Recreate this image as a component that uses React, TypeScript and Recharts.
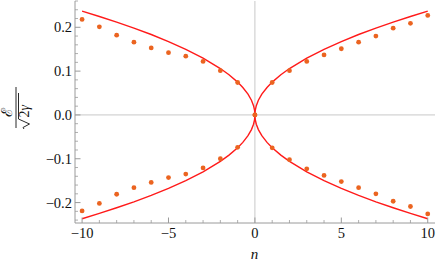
import React from 'react';
import { ComposedChart, Line, Scatter, XAxis, YAxis, ReferenceLine } from 'recharts';

// magnitudes of n used to trace the analytic curve, and the curve value read at each
const curveAbsN = [0, 0.02, 0.08, 0.2, 0.4, 0.7, 1, 1.5, 2, 3, 4, 5, 6, 7, 8, 9, 10];
const curveE = [0, 0.0106, 0.0212, 0.0335, 0.0474, 0.0627, 0.0749, 0.0917, 0.1059, 0.1297, 0.1498, 0.1675, 0.1835, 0.1982, 0.2118, 0.2247, 0.2369];

// numerical points
const dotN = [-10, -9, -8, -7, -6, -5, -4, -3, -2, -1, 0, 1, 2, 3, 4, 5, 6, 7, 8, 9, 10];
const dotUpper = [0.218, 0.201, 0.182, 0.166, 0.153, 0.142, 0.134, 0.122, 0.101, 0.074, 0, 0.074, 0.101, 0.122, 0.137, 0.151, 0.166, 0.18, 0.198, 0.209, 0.227];
const dotLower = [-0.219, -0.202, -0.181, -0.166, -0.154, -0.143, -0.135, -0.121, -0.1, -0.074, 0, -0.075, -0.102, -0.123, -0.138, -0.152, -0.166, -0.18, -0.197, -0.209, -0.226];

const xTicks = [-10, -9, -8, -7, -6, -5, -4, -3, -2, -1, 0, 1, 2, 3, 4, 5, 6, 7, 8, 9, 10];
const xMajor = [-10, -5, 0, 5, 10];
const yTicks = [-0.24, -0.22, -0.2, -0.18, -0.16, -0.14, -0.12, -0.1, -0.08, -0.06, -0.04, -0.02, 0, 0.02, 0.04, 0.06, 0.08, 0.1, 0.12, 0.14, 0.16, 0.18, 0.2, 0.22, 0.24, 0.26];
const yMajor = [-0.2, -0.1, 0, 0.1, 0.2];

const FRAME = '#9a9a9a';
const serif: React.CSSProperties = { fontFamily: "'Liberation Serif', 'Times New Roman'" };

const isMajor = (list: number[], v: number) => list.some((m) => Math.abs(m - v) < 1e-6);
const fmt = (v: number, digits: number) => {
    const s = Math.abs(v).toFixed(digits);
    return v < -1e-9 ? `\u2212${s}` : s;
};

// curve: positive branch over n from -10..10, then mirrored for the negative branch
const curveN = [...curveAbsN.slice(1).reverse().map((a) => -a), ...curveAbsN];
const curveVals = [...curveE.slice(1).reverse(), ...curveE];
const upperCurve = curveN.map((n, i) => ({ n, e: curveVals[i] }));
const lowerCurve = curveN.map((n, i) => ({ n, e: -curveVals[i] }));
const upperDots = dotN.map((n, i) => ({ n, e: dotUpper[i] }));
const lowerDots = dotN.map((n, i) => ({ n, e: dotLower[i] }));

const makeXTick = (side: 'bottom' | 'top') => (props: any) => {
    const { x, y, payload } = props;
    const major = isMajor(xMajor, payload.value);
    const len = major ? 5.5 : 3;
    const dir = side === 'bottom' ? -1 : 1;
    return (
        <g>
            <line x1={x} x2={x} y1={y} y2={y + dir * len} stroke={FRAME} strokeWidth={major ? 1 : 0.8} />
            {side === 'bottom' && major && (
                <text x={x} y={y + 15} textAnchor="middle" style={{ ...serif, fontSize: 14.5 }} fill="#111">
                    {fmt(payload.value, 0)}
                </text>
            )}
        </g>
    );
};

const makeYTick = (side: 'left' | 'right') => (props: any) => {
    const { x, y, payload } = props;
    const major = isMajor(yMajor, payload.value);
    const len = major ? 5.5 : 3;
    const dir = side === 'left' ? 1 : -1;
    return (
        <g>
            <line x1={x} x2={x + dir * len} y1={y} y2={y} stroke={FRAME} strokeWidth={major ? 1 : 0.8} />
            {side === 'left' && major && (
                <text x={x - 3} y={y} dy="0.35em" textAnchor="end" style={{ ...serif, fontSize: 14.5 }} fill="#111">
                    {fmt(payload.value, 1)}
                </text>
            )}
        </g>
    );
};

const YLabel = () => (
    <g transform="translate(16,108) rotate(-90)" fill="#111" stroke="none">
        <text x={-4} y={-4} textAnchor="middle" style={{ ...serif, fontSize: 15 }}>
            {'\u2130'}
        </text>
        <line x1={-20} x2={21} y1={0} y2={0} stroke="#111" strokeWidth={0.9} />
        <path d="M -21 8 L -19.5 7 L -16 13.5 L -11 2.5 L 15 2.5" fill="none" stroke="#111" strokeWidth={0.9} />
        <text x={-9.5} y={12.5} style={{ ...serif, fontSize: 14 }}>
            2<tspan fontStyle="italic">γ</tspan>
        </text>
    </g>
);

const XLabel = () => (
    <text x={254.5} y={259} textAnchor="middle" style={{ ...serif, fontSize: 15, fontStyle: 'italic' }} fill="#111">
        n
    </text>
);

export default function App() {
    return (
        <div style={{ position: 'absolute', left: 0, top: 0, background: '#fff' }}>
            <ComposedChart width={436} height={264} margin={{ top: 1, right: 1, bottom: 0, left: 0 }}>
                <XAxis
                    xAxisId="b"
                    dataKey="n"
                    type="number"
                    orientation="bottom"
                    domain={[-10.41, 10.42]}
                    ticks={xTicks}
                    interval={0}
                    height={41}
                    tickSize={0}
                    tickMargin={0}
                    tickLine={false}
                    axisLine={{ stroke: FRAME }}
                    tick={makeXTick('bottom')}
                    allowDataOverflow
                    label={{ content: () => <XLabel /> }}
                />
                <XAxis
                    xAxisId="t"
                    dataKey="n"
                    type="number"
                    orientation="top"
                    domain={[-10.41, 10.42]}
                    ticks={xTicks}
                    interval={0}
                    height={0}
                    tickSize={0}
                    tickMargin={0}
                    tickLine={false}
                    axisLine={{ stroke: FRAME }}
                    tick={makeXTick('top')}
                    allowDataOverflow
                />
                <YAxis
                    yAxisId="l"
                    type="number"
                    orientation="left"
                    domain={[-0.2466, 0.26]}
                    ticks={yTicks}
                    interval={0}
                    width={75}
                    tickSize={0}
                    tickMargin={0}
                    tickLine={false}
                    axisLine={{ stroke: FRAME }}
                    tick={makeYTick('left')}
                    allowDataOverflow
                    label={{ content: () => <YLabel /> }}
                />
                <YAxis
                    yAxisId="r"
                    type="number"
                    orientation="right"
                    domain={[-0.2466, 0.26]}
                    ticks={yTicks}
                    interval={0}
                    width={0}
                    tickSize={0}
                    tickMargin={0}
                    tickLine={false}
                    axisLine={{ stroke: FRAME }}
                    tick={makeYTick('right')}
                    allowDataOverflow
                />
                <ReferenceLine xAxisId="b" yAxisId="l" x={0} stroke="#c8c8c8" strokeWidth={1} />
                <ReferenceLine xAxisId="b" yAxisId="l" y={0} stroke="#c8c8c8" strokeWidth={1} />
                <Line
                    xAxisId="b"
                    yAxisId="l"
                    data={upperCurve}
                    dataKey="e"
                    type="linear"
                    stroke="#ff1a1a"
                    strokeWidth={1.4}
                    dot={false}
                    activeDot={false}
                    isAnimationActive={false}
                />
                <Line
                    xAxisId="b"
                    yAxisId="l"
                    data={lowerCurve}
                    dataKey="e"
                    type="linear"
                    stroke="#ff1a1a"
                    strokeWidth={1.4}
                    dot={false}
                    activeDot={false}
                    isAnimationActive={false}
                />
                <Scatter xAxisId="b" yAxisId="l" data={upperDots} dataKey="e" fill="#eb6420" shape={(p: any) => <circle cx={p.cx} cy={p.cy} r={2.4} fill="#eb6420" />} isAnimationActive={false} />
                <Scatter xAxisId="b" yAxisId="l" data={lowerDots} dataKey="e" fill="#eb6420" shape={(p: any) => <circle cx={p.cx} cy={p.cy} r={2.4} fill="#eb6420" />} isAnimationActive={false} />
            </ComposedChart>
        </div>
    );
}
